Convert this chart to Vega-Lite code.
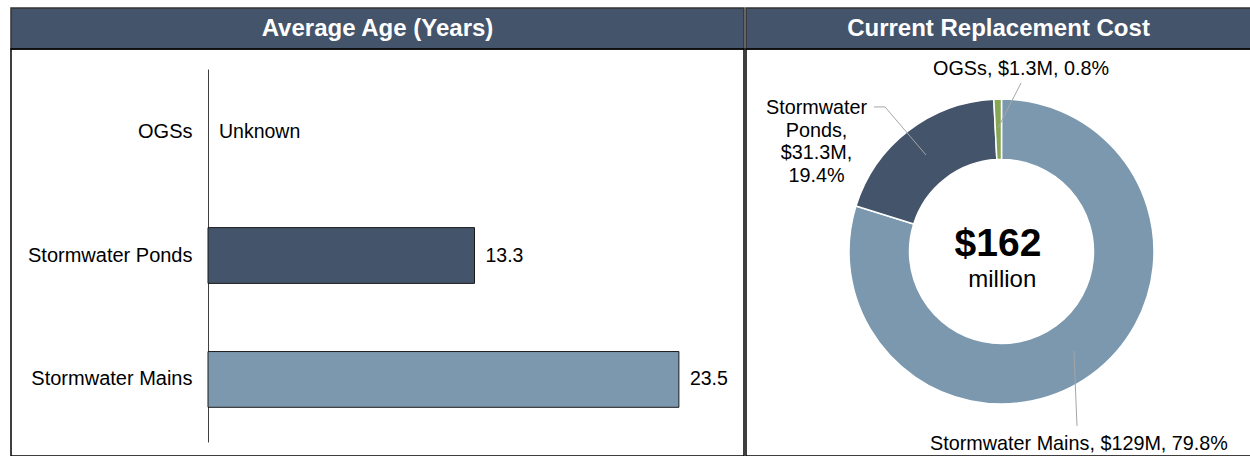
{
  "$schema": "https://vega.github.io/schema/vega-lite/v6.json",
  "padding": {"left": 10, "top": 7, "right": 0, "bottom": 0},
  "background": "white",
  "config": {
    "font": "Liberation Sans",
    "view": {"stroke": "#000000", "strokeWidth": 1.5},
    "concat": {"spacing": 0},
    "text": {"font": "Liberation Sans"}
  },
  "datasets": {
    "age": [
      {"asset": "OGSs", "age": null, "label": "Unknown"},
      {"asset": "Stormwater Ponds", "age": 13.3, "label": "13.3"},
      {"asset": "Stormwater Mains", "age": 23.5, "label": "23.5"}
    ],
    "cost": [
      {"asset": "Stormwater Mains", "cost": 129, "ord": 1},
      {"asset": "Stormwater Ponds", "cost": 31.3, "ord": 2},
      {"asset": "OGSs", "cost": 1.3, "ord": 3}
    ],
    "costLabels": [
      {"asset": "OGSs", "text": "OGSs, $1.3M, 0.8%", "lx": 0.128, "ly": 1.197},
      {"asset": "Stormwater Ponds", "text": "Stormwater\nPonds,\n$31.3M,\n19.4%", "lx": -1.213, "ly": 0.941},
      {"asset": "Stormwater Mains", "text": "Stormwater Mains, $129M, 79.8%", "lx": 0.508, "ly": -1.262}
    ],
    "leaders": [
      {"asset": "OGSs", "x": 0.128, "y": 1.105, "x2": -0.023, "y2": 0.81},
      {"asset": "Stormwater Ponds", "x": -0.836, "y": 0.948, "x2": -0.764, "y2": 0.948},
      {"asset": "Stormwater Ponds", "x": -0.764, "y": 0.948, "x2": -0.495, "y2": 0.633},
      {"asset": "Stormwater Mains", "x": 0.475, "y": -0.652, "x2": 0.495, "y2": -1.144}
    ],
    "headers": [
      {"panel": "age", "title": "Average Age (Years)"},
      {"panel": "cost", "title": "Current Replacement Cost"}
    ],
    "total": [
      {"part": "amount", "text": "$162"},
      {"part": "unit", "text": "million"}
    ]
  },
  "hconcat": [
    {
      "spacing": 0,
      "bounds": "flush",
      "vconcat": [
        {
          "width": 733,
          "height": 41,
          "view": {"fill": "#44546A", "stroke": "#333333", "strokeWidth": 1.5},
          "data": {"name": "headers"},
          "transform": [{"filter": "datum.panel === 'age'"}],
          "mark": {"type": "text", "color": "white", "fontWeight": "bold", "fontSize": 24, "baseline": "middle", "align": "center"},
          "encoding": {"text": {"field": "title"}}
        },
        {
          "width": 733,
          "height": 407,
          "data": {"name": "age"},
          "encoding": {
            "y": {
              "field": "asset",
              "type": "nominal",
              "sort": ["OGSs", "Stormwater Ponds", "Stormwater Mains"],
              "scale": {"range": [20, 393], "paddingInner": 0.55, "paddingOuter": 0.28},
              "axis": {"title": null, "offset": -197, "ticks": false, "labelPadding": 16, "labelFontSize": 20, "labelColor": "#000000", "labelFont": "Liberation Sans", "domainColor": "#404040", "domainWidth": 1, "grid": false, "labelLimit": 400}
            }
          },
          "layer": [
            {
              "mark": {"type": "bar", "stroke": "#1a1a1a", "strokeWidth": 1},
              "encoding": {
                "x": {"field": "age", "type": "quantitative", "scale": {"domain": [0, 26.75], "range": [197, 733], "nice": false, "zero": false}, "axis": null},
                "color": {"field": "asset", "type": "nominal", "scale": {"domain": ["Stormwater Mains", "Stormwater Ponds", "OGSs"], "range": ["#7B98AE", "#44546A", "#85A653"]}, "legend": null}
              }
            },
            {
              "transform": [{"calculate": "isValid(datum.age) ? datum.age : 0", "as": "pos"}],
              "mark": {"type": "text", "align": "left", "baseline": "middle", "dx": 11, "fontSize": 19.5, "color": "#000000"},
              "encoding": {
                "x": {"field": "pos", "type": "quantitative"},
                "text": {"field": "label"}
              }
            }
          ]
        }
      ]
    },
    {
      "spacing": 0,
      "bounds": "flush",
      "vconcat": [
        {
          "width": 505,
          "height": 41,
          "view": {"fill": "#44546A", "stroke": "#333333", "strokeWidth": 1.5},
          "data": {"name": "headers"},
          "transform": [{"filter": "datum.panel === 'cost'"}],
          "mark": {"type": "text", "color": "white", "fontWeight": "bold", "fontSize": 24, "baseline": "middle", "align": "center"},
          "encoding": {"text": {"field": "title"}}
        },
        {
          "width": 505,
          "height": 407,
          "layer": [
            {
              "data": {"name": "cost"},
              "mark": {"type": "arc", "innerRadius": 92, "outerRadius": 152.5, "stroke": "#ffffff", "strokeWidth": 1.5},
              "encoding": {
                "theta": {"field": "cost", "type": "quantitative", "stack": true},
                "order": {"field": "ord"},
                "color": {"field": "asset", "type": "nominal", "scale": {"domain": ["Stormwater Mains", "Stormwater Ponds", "OGSs"], "range": ["#7B98AE", "#44546A", "#85A653"]}, "legend": null},
                "x": {"datum": 0, "type": "quantitative", "scale": {"domain": [-1.6754, 1.636], "nice": false, "zero": false}, "axis": null},
                "y": {"datum": 0, "type": "quantitative", "scale": {"domain": [-1.341, 1.3279], "nice": false, "zero": false}, "axis": null}
              }
            },
            {
              "data": {"name": "leaders"},
              "mark": {"type": "rule", "color": "#A6A6A6", "strokeWidth": 1},
              "encoding": {
                "x": {"field": "x", "type": "quantitative"},
                "y": {"field": "y", "type": "quantitative"},
                "x2": {"field": "x2"},
                "y2": {"field": "y2"}
              }
            },
            {
              "data": {"name": "costLabels"},
              "mark": {"type": "text", "align": "center", "baseline": "middle", "fontSize": 19.8, "lineBreak": "\n", "lineHeight": 22.6, "color": "#000000"},
              "encoding": {
                "x": {"field": "lx", "type": "quantitative"},
                "y": {"field": "ly", "type": "quantitative"},
                "text": {"field": "text"}
              }
            },
            {
              "data": {"name": "total"},
              "transform": [{"filter": "datum.part === 'amount'"}],
              "mark": {"type": "text", "align": "center", "baseline": "alphabetic", "fontSize": 39, "fontWeight": "bold", "color": "#000000"},
              "encoding": {
                "x": {"datum": -0.023, "type": "quantitative"},
                "y": {"datum": -0.0295, "type": "quantitative"},
                "text": {"field": "text"}
              }
            },
            {
              "data": {"name": "total"},
              "transform": [{"filter": "datum.part === 'unit'"}],
              "mark": {"type": "text", "align": "center", "baseline": "alphabetic", "fontSize": 24, "color": "#000000"},
              "encoding": {
                "x": {"datum": 0.005, "type": "quantitative"},
                "y": {"datum": -0.236, "type": "quantitative"},
                "text": {"field": "text"}
              }
            }
          ]
        }
      ]
    }
  ]
}
